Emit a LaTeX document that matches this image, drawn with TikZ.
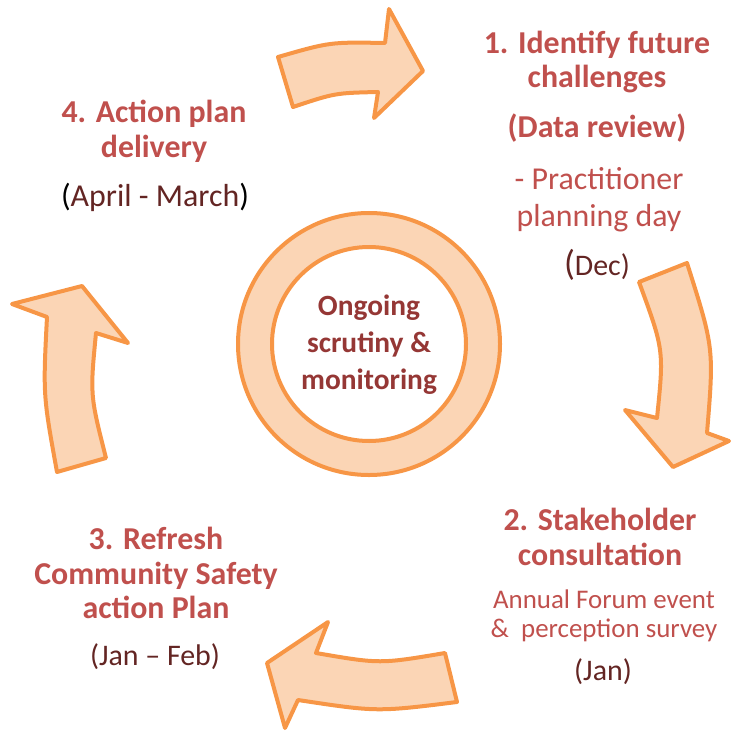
\documentclass[tikz,border=0pt]{standalone}
\usepackage{fontspec}
\setmainfont{Carlito}
\definecolor{arrowline}{HTML}{F79646}
\definecolor{arrowfill}{HTML}{FBD5B5}
\definecolor{titlered}{HTML}{C0504D}
\definecolor{datered}{HTML}{632523}
\definecolor{midred}{HTML}{953735}
\tikzset{
  blockarrow/.style={draw=arrowline, fill=arrowfill, line width=4bp, line join=round},
  ttl/.style={font=\fontsize{32}{35}\selectfont\bfseries, text=titlered, align=center, inner sep=0pt},
  sub/.style={font=\fontsize{32}{37}\selectfont, text=titlered, align=center, inner sep=0pt},
  subsmall/.style={font=\fontsize{27}{29}\selectfont, text=titlered, align=center, inner sep=0pt},
  datetxt/.style={font=\fontsize{30}{30}\selectfont, text=datered, align=center, inner sep=0pt},
  midtxt/.style={font=\fontsize{29.5}{37}\selectfont\bfseries, text=midred, align=center, inner sep=0pt}
}
\begin{document}
\begin{tikzpicture}[x=1bp,y=-1bp]
\useasboundingbox (0,0) rectangle (731,731);
% centre ring
\node[circle, draw=arrowline, fill=arrowfill, line width=4bp, minimum size=262bp, inner sep=0pt] (outer) at (369,344) {};
\node[circle, draw=arrowline, fill=white, line width=4bp, minimum size=194bp, inner sep=0pt] (inner) at (369,344) {};
\node[midtxt] (mid) at (369,345) {Ongoing\\scrutiny \&\\monitoring};
% top arrow
\draw[blockarrow] (278,57) .. controls (330,42) .. (385,43) -- (389,9) -- (423,71) -- (374,118) -- (378,92) .. controls (335,93) .. (293,107) -- cycle;
% right arrow
\draw[blockarrow] (639,282) -- (687,263) .. controls (714,348) .. (707,433) -- (729,441) -- (673,467) -- (625,410) -- (657,418) .. controls (664,350) .. cycle;
% bottom arrow
\draw[blockarrow] (445,653) -- (457,702) .. controls (377,712) .. (298,700) -- (285,728) -- (267,663) -- (328,622) -- (316,653) .. controls (380,664) .. cycle;
% left arrow
\draw[blockarrow] (57,472) -- (106,458) .. controls (90,395) .. (96,333) -- (128,343) -- (82,286) -- (12,304) -- (47,317) .. controls (43,395) .. cycle;
% block 1
\node[ttl] (t1) at (597,62) {1. Identify future\\challenges};
\node[ttl] (d1) at (597,128) {(Data review)};
\node[sub] (s1) at (599,200) {- Practitioner\\planning day};
\node[datetxt] (m1) at (597,265) {{\fontsize{36}{36}\selectfont(}Dec)};
% block 2
\node[ttl] (t2) at (600,537) {2. Stakeholder\\consultation};
\node[subsmall] (s2) at (604,616) {Annual Forum event\\\&\ \ perception survey};
\node[datetxt] (m2) at (603,672) {(Jan)};
% block 3
\node[ttl] (t3) at (156,573) {3. Refresh\\Community Safety\\action Plan};
\node[datetxt] (m3) at (155,657) {(Jan -- Feb)};
% block 4
\node[ttl] (t4) at (154,131) {4. Action plan\\delivery};
\node[datetxt,font=\fontsize{32}{32}\selectfont] (m4) at (155,197) {{\color{black}(}April - March{\color{black})}};
\end{tikzpicture}
\end{document}
